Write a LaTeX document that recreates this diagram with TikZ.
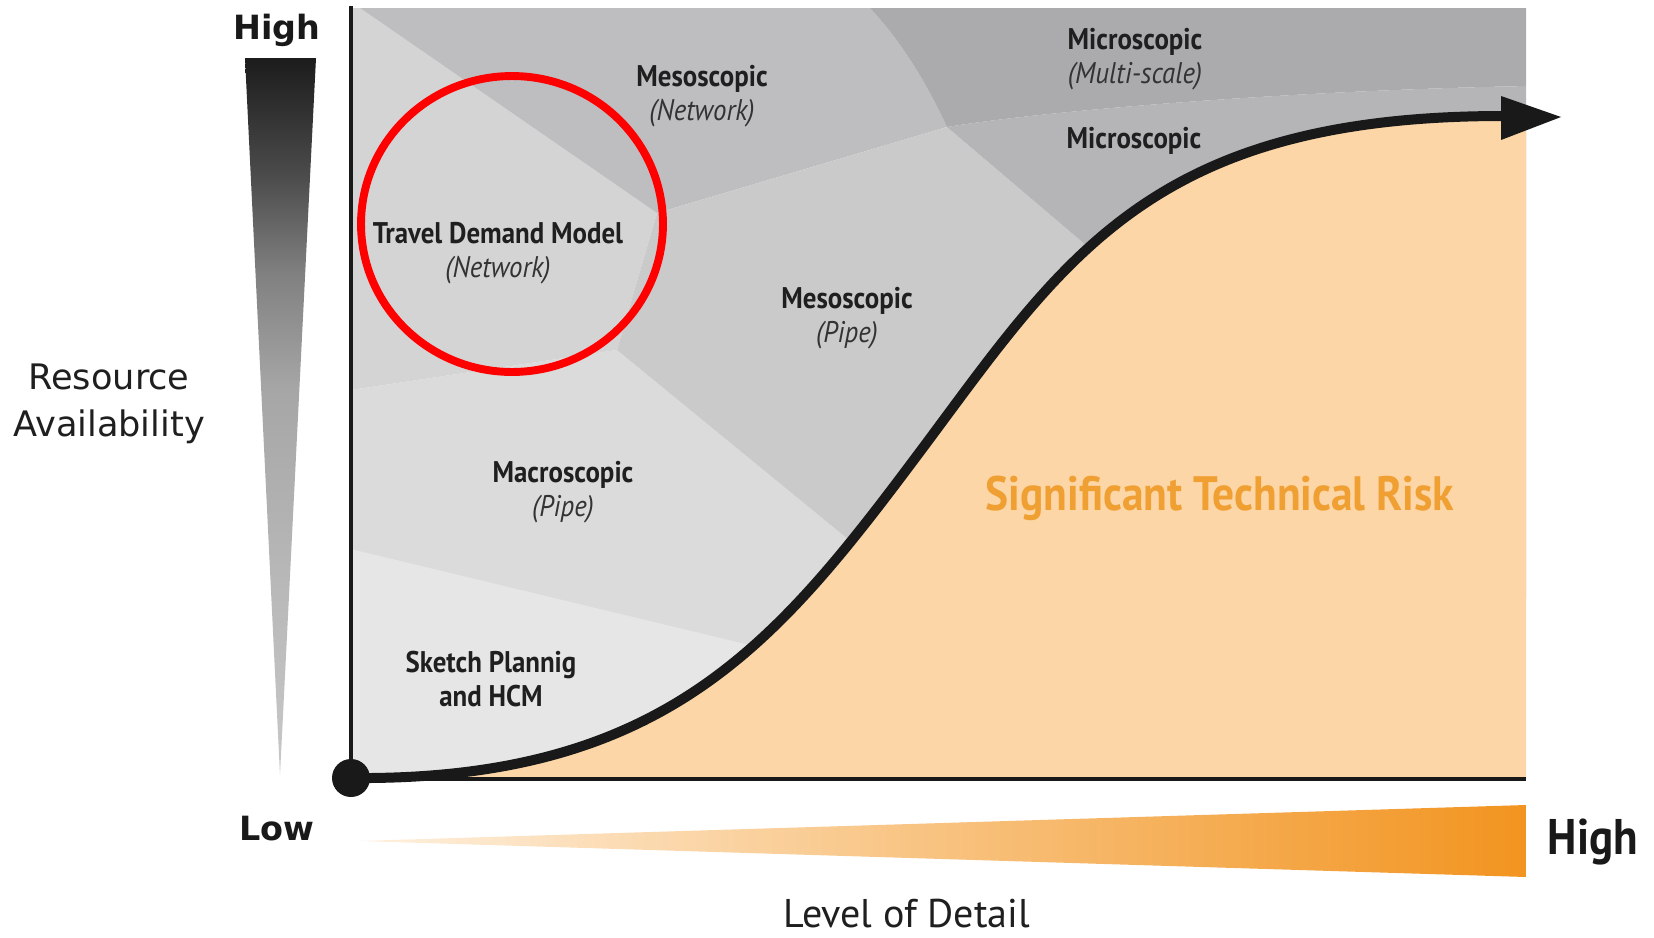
\documentclass[tikz,border=0pt]{standalone}
\usepackage{fontspec}
\newfontfamily\lab[FakeStretch=0.9]{PT Sans}
\newfontfamily\labw{PT Sans}
\newfontfamily\djfont{DejaVu Sans}
\definecolor{gSketch}{HTML}{E6E6E6}
\definecolor{gMacro}{HTML}{DBDBDB}
\definecolor{gTravel}{HTML}{D4D4D4}
\definecolor{gPipe}{HTML}{CACACA}
\definecolor{gNet}{HTML}{BEBEC0}
\definecolor{gMicro}{HTML}{B5B5B8}
\definecolor{gMulti}{HTML}{ABABAE}
\definecolor{peach}{HTML}{FDD6A7}
\definecolor{riskorange}{HTML}{F0A032}
\definecolor{barorange}{HTML}{F29420}
\definecolor{barpale}{HTML}{FEF0DE}
\definecolor{rg0}{HTML}{C8C8C8}
\definecolor{rg1}{HTML}{B6B6B6}
\definecolor{rg2}{HTML}{A6A6A6}
\definecolor{rg3}{HTML}{808080}
\definecolor{rg4}{HTML}{4A4A4A}
\definecolor{rg5}{HTML}{1C1C1C}
\pgfdeclareverticalshading{resgrad}{100bp}{color(0bp)=(rg0); color(25bp)=(rg0); color(40bp)=(rg1); color(52bp)=(rg2); color(60bp)=(rg3); color(67bp)=(rg4); color(75bp)=(rg5); color(100bp)=(rg5)}
\tikzset{
  reg/.style={font=\lab\bfseries\fontsize{17}{19}\selectfont, align=center, text=black!88, inner sep=0pt},
  axlab/.style={font=\djfont\bfseries\fontsize{19}{22}\selectfont, text=black!90, inner sep=0pt},
  axline/.style={line width=1.8pt, black!90},
  curveline/.style={line width=0.2cm, black!90, line cap=round},
}
\newcommand{\subl}[1]{{\mdseries\itshape\color{black!80}#1}}
\begin{document}
\begin{tikzpicture}[x=0.02cm,y=-0.02cm]
\useasboundingbox (0,0) rectangle (1654,937);
% --- gray regions ---
\begin{scope}
\clip (351,8) rectangle (1526,779);
\fill[gSketch] (351,540) -- (760,643) -- (900,779) -- (351,779) -- cycle;
\fill[gMacro] (351,390) -- (617,350) -- (849,540) -- (875,565) -- (805,665) -- (754,646) -- (351,549) -- cycle;
\fill[gTravel] (340,0) -- (360,8) -- (657,213) -- (617,350) -- (351,390) -- (340,390) -- cycle;
\fill[gNet] (360,8) -- (870,8) .. controls (900,40) and (925,80) .. (947,127) -- (657,213) -- cycle;
\fill[gPipe] (657,213) -- (947,127) -- (1087,246) -- (1110,620) -- (870,620) -- (849,540) -- (617,350) -- cycle;
\fill[gMicro] (947,127) .. controls (1050,110) and (1300,90) .. (1530,86) -- (1530,600) -- (1087,246) -- cycle;
\fill[gMulti] (870,0) -- (1530,0) -- (1530,86) .. controls (1300,90) and (1050,110) .. (947,127) .. controls (925,80) and (900,40) .. (870,8) -- cycle;
\end{scope}
% --- curve coordinates ---
\coordinate (org) at (351,778);
\coordinate (infl) at (925,445);
\coordinate (cend) at (1503,116);
% --- risk area ---
\fill[peach] (org) .. controls (670,781) and (780,639) .. (infl) .. controls (1065,257) and (1153,116) .. (cend) -- (1526,116) -- (1526,779) -- (351,779) -- cycle;
% --- axes ---
\coordinate (ytop) at (351,6);
\coordinate (xend) at (1526,779);
\draw[axline] (ytop) -- (org |- xend) -- (xend);
% --- curve ---
\draw[curveline] (org) .. controls (670,781) and (780,639) .. (infl) .. controls (1065,257) and (1153,116) .. (cend);
\fill[black!90] (1501,96) -- (1561,117) -- (1501,140) -- cycle;
\fill[black!90] (org) circle (0.38cm);
% --- red circle ---
\draw[red, line width=4.5pt] (512,224) ellipse [x radius=3.02cm, y radius=2.96cm];
% --- labels ---
\node[reg] (mnet) at (702,96) {Mesoscopic\\\subl{(Network)}};
\node[reg] (mmulti) at (1135,59) {Microscopic\\\subl{(Multi-scale)}};
\node[reg] (micro) at (1134,141) {Microscopic};
\node[reg] (tdm) at (498,253) {Travel Demand Model\\\subl{(Network)}};
\node[reg] (mpipe) at (847,318) {Mesoscopic\\\subl{(Pipe)}};
\node[reg] (macro) at (563,492) {Macroscopic\\\subl{(Pipe)}};
\node[reg] (sketch) at (491,679) {Sketch Plannig\\and HCM};
\node[font=\lab\bfseries\fontsize{27.5}{30}\selectfont, text=riskorange] (risk) at (1220,498) {Significant Technical Risk};
% --- left scale ---
\shade[shading=resgrad] (245,58) -- (316,58) -- (280,775) -- cycle;
\node[axlab] (yhigh) at (277,30) {High};
\node[axlab] (ylow) at (277,829) {Low};
\node[font=\djfont\fontsize{20}{26.5}\selectfont, align=center, text=black!88] (ylab) at (109,404) {Resource\\Availability};
% --- bottom scale ---
\shade[left color=barpale, right color=barorange] (359,841) -- (1526,805) -- (1526,877) -- cycle;
\node[font=\lab\bfseries\fontsize{28.5}{32}\selectfont, text=black!90] (xhigh) at (1593,842) {High};
\node[font=\labw\fontsize{22.8}{26}\selectfont, text=black!88, inner sep=0pt] (xlab) at (907,914) {Level of Detail};
\end{tikzpicture}
\end{document}
